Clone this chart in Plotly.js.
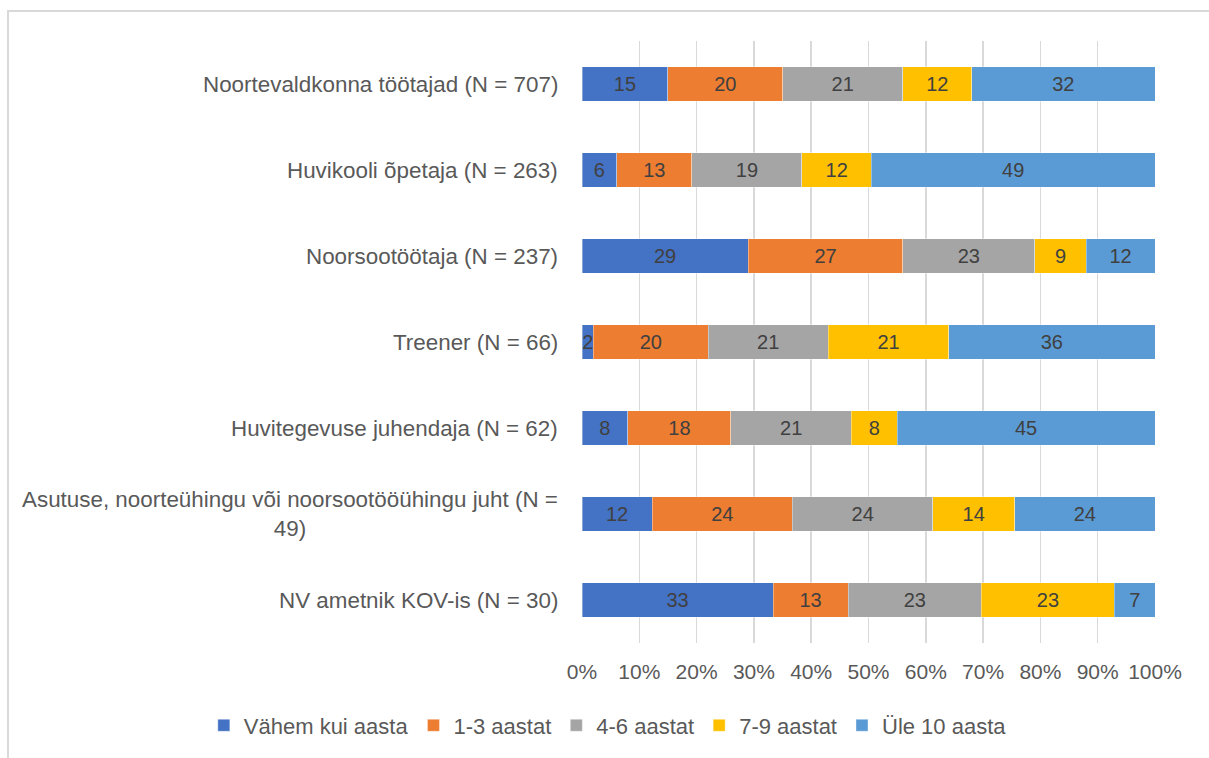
<!DOCTYPE html>
<html><head><meta charset="utf-8">
<script src="https://cdn.plot.ly/plotly-3.0.1.min.js"></script>
<style>
html,body{margin:0;padding:0;overflow:hidden;background:#fff;}
#chart{width:1209px;height:758px;position:absolute;left:0;top:0;}
#frame{position:absolute;left:7px;top:10px;width:1400px;height:1000px;border-left:2px solid #d9d9d9;border-top:2px solid #d9d9d9;pointer-events:none;}
</style></head>
<body>
<div id="chart"></div>
<div id="frame"></div>
<script>
const categories = [
  "Noortevaldkonna töötajad (N = 707)",
  "Huvikooli õpetaja (N = 263)",
  "Noorsootöötaja (N = 237)",
  "Treener (N = 66)",
  "Huvitegevuse juhendaja (N = 62)",
  "Asutuse, noorteühingu või noorsootööühingu juht (N =<br>49)",
  "NV ametnik KOV-is (N = 30)"
];
const seriesNames = ["Vähem kui aasta", "1-3 aastat", "4-6 aastat", "7-9 aastat", "Üle 10 aasta"];
// values as shown (percent, rounded); the chart is a 100% stacked bar
const vahemKuiAasta = [15, 6, 29, 2, 8, 12, 33];
const aastat1_3     = [20, 13, 27, 20, 18, 24, 13];
const aastat4_6     = [21, 19, 23, 21, 21, 24, 23];
const aastat7_9     = [12, 12, 9, 21, 8, 14, 23];
const ule10Aasta    = [32, 49, 12, 36, 45, 24, 7];
const xTickVals = [0,10,20,30,40,50,60,70,80,90,100];
const xTickText = ["0%","10%","20%","30%","40%","50%","60%","70%","80%","90%","100%"];

const colors = ["#4472C4", "#ED7D31", "#A5A5A5", "#FFC000", "#5B9BD5"];
const allSeries = [vahemKuiAasta, aastat1_3, aastat4_6, aastat7_9, ule10Aasta];
const FONT = "Liberation Sans, Arial, sans-serif";

const traces = allSeries.map((vals, i) => ({
  type: "bar",
  orientation: "h",
  name: seriesNames[i],
  y: categories,
  x: vals,
  text: vals.map(String),
  texttemplate: "%{text}",
  marker: {color: colors[i], line: {color: "rgba(255,255,255,0.6)", width: 0.6}},
  textposition: "inside",
  insidetextanchor: "middle",
  constraintext: "none",
  textfont: {family: FONT, size: 20, color: "#404040"},
  hoverinfo: "name+text"
}));

const annotations = categories.map(c => ({
  xref: "paper", yref: "y", x: 0, y: c, xanchor: "right", yanchor: "middle",
  xshift: -22, text: c, showarrow: false, align: "center",
  font: {family: FONT, size: 22.4, color: "#595959"}
}));

const layout = {
  width: 1209, height: 758,
  margin: {l: 582, r: 54, t: 41, b: 113},
  barmode: "stack",
  barnorm: "percent",
  bargap: 0.6,
  paper_bgcolor: "rgba(0,0,0,0)",
  plot_bgcolor: "#fff",
  showlegend: true,
  legend: {orientation: "h", xref: "paper", x: -0.66, xanchor: "left", yref: "paper", y: -0.137, yanchor: "middle",
    font: {family: FONT, size: 22, color: "#595959"}, traceorder: "normal", itemwidth: 30},
  xaxis: {range: [0, 100], tickvals: xTickVals, ticktext: xTickText, showgrid: true,
    gridcolor: "#d9d9d9", gridwidth: 1.5, zeroline: false, showline: false,
    tickfont: {family: FONT, size: 21, color: "#595959"}, ticks: "", ticklabelstandoff: 14, fixedrange: true},
  yaxis: {autorange: "reversed", showticklabels: false, showgrid: false, zeroline: false, ticks: "", fixedrange: true},
  annotations: annotations
};

Plotly.newPlot("chart", traces, layout, {displayModeBar: false, staticPlot: true});
</script>
</body></html>
